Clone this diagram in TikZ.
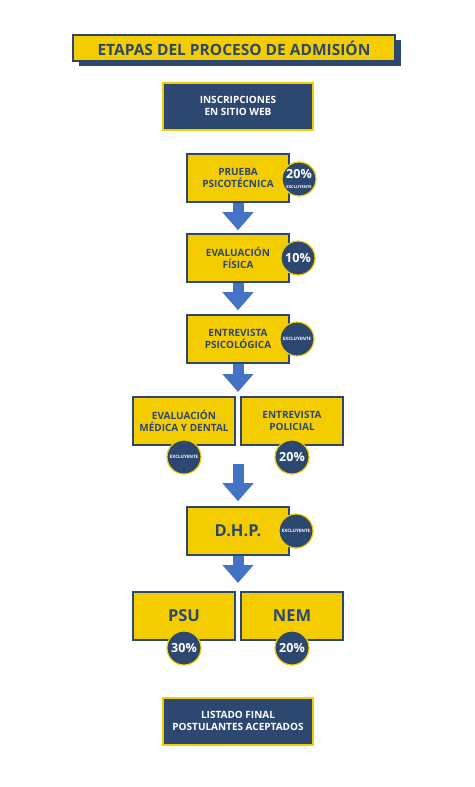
\documentclass[tikz,border=0pt]{standalone}
\usepackage{fontspec}
\setmainfont{Open Sans}
\usetikzlibrary{arrows.meta,shadows}

\definecolor{amarillo}{RGB}{244,205,0}
\definecolor{azul}{RGB}{45,72,112}
\definecolor{flechaazul}{RGB}{68,114,196}

\begin{document}
\begin{tikzpicture}[x=1pt,y=-1pt,
  caja/.style={draw=azul,line width=1.6pt,fill=amarillo,text=azul,
    minimum width=102pt,minimum height=48pt,align=center,
    font=\fontsize{10}{12}\selectfont\bfseries},
  oscura/.style={draw=amarillo,line width=2pt,fill=azul,text=white,
    minimum width=150pt,minimum height=47pt,align=center,
    font=\fontsize{10}{12}\selectfont\bfseries},
  grande/.style={caja,font=\fontsize{16.5}{16.5}\selectfont\bfseries},
  circulo/.style={circle,draw=amarillo,line width=1.2pt,fill=azul,text=white,
    minimum size=34pt,inner sep=0pt,align=center,
    font=\fontsize{12.5}{12.5}\selectfont\bfseries},
  flecha/.style={flechaazul,line width=11pt,
    -{Triangle[width=30pt,length=18pt]}}]
  \useasboundingbox[fill=white] (0,0) rectangle (474,787);
  % titulo
  \node[draw=azul,line width=1.8pt,fill=amarillo,text=azul,
    minimum width=322pt,minimum height=26pt,
    font=\fontsize{15.5}{15.5}\selectfont\bfseries,
    drop shadow={shadow xshift=6pt,shadow yshift=-5pt,fill=azul,opacity=1}]
    (titulo) at (234,48) {ETAPAS DEL PROCESO DE ADMISIÓN};
  \node[oscura] (inscripciones) at (238,106) {INSCRIPCIONES\\EN SITIO WEB};
  % etapas
  \node[caja] (prueba) at (238,178) {PRUEBA\\PSICOTÉCNICA};
  \node[caja] (fisica) at (238,258) {EVALUACIÓN\\FÍSICA};
  \node[caja] (psico) at (238,339) {ENTREVISTA\\PSICOLÓGICA};
  \node[caja] (medica) at (184,421) {EVALUACIÓN\\MÉDICA Y DENTAL};
  \node[caja] (policial) at (292,421) {ENTREVISTA\\POLICIAL};
  \node[grande] (dhp) at (238,531) {D.H.P.};
  \node[grande] (psu) at (184,616) {PSU};
  \node[grande] (nem) at (292,616) {NEM};
  \node[oscura] (listado) at (238,721) {LISTADO FINAL\\POSTULANTES ACEPTADOS};
  % porcentajes
  \node[circulo] (cprueba) at (299,179)
    {20\%\\[-3pt]{\fontsize{4}{4}\selectfont EXCLUYENTE}};
  \node[circulo] (cfisica) at (298,258) {10\%};
  \node[circulo,font=\fontsize{4.5}{4.5}\selectfont\bfseries]
    (cpsico) at (297,339) {EXCLUYENTE};
  \node[circulo,font=\fontsize{4.5}{4.5}\selectfont\bfseries]
    (cmedica) at (184,457) {EXCLUYENTE};
  \node[circulo] (cpolicial) at (292,457) {20\%};
  \node[circulo,font=\fontsize{4.5}{4.5}\selectfont\bfseries]
    (cdhp) at (296,531) {EXCLUYENTE};
  \node[circulo] (cpsu) at (184,648) {30\%};
  \node[circulo] (cnem) at (292,648) {20\%};
  % flechas
  \coordinate (fila) at (238,397);
  \coordinate (salida) at (238,464);
  \coordinate (final) at (238,592);
  \draw[flecha,shorten >=3pt] (prueba.south) -- (fisica.north);
  \draw[flecha,shorten >=4pt] (fisica.south) -- (psico.north);
  \draw[flecha,shorten >=5pt] (psico.south) -- (fila);
  \draw[flecha,shorten >=5pt] (salida) -- (dhp.north);
  \draw[flecha,shorten >=9pt] (dhp.south) -- (final);
\end{tikzpicture}
\end{document}
